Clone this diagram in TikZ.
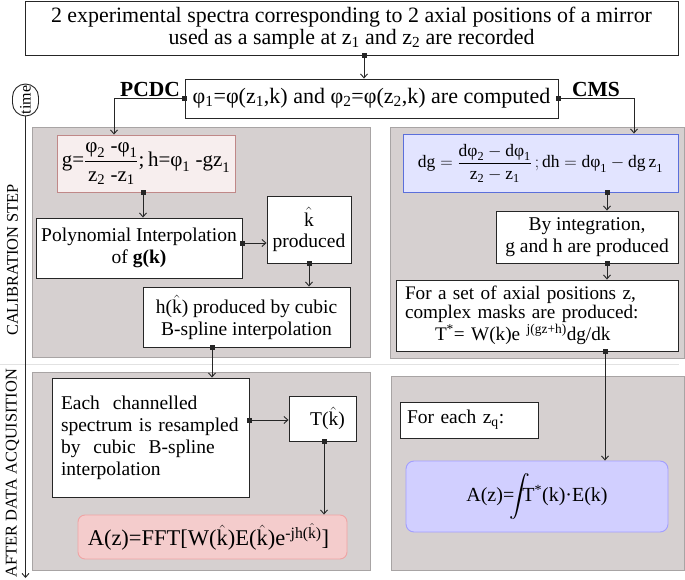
\documentclass[tikz,border=0pt]{standalone}
\usepackage{amsmath}
\usepackage{fontspec}
\setmainfont{Liberation Serif}
\usetikzlibrary{arrows.meta,shapes.misc}
\definecolor{panelfill}{HTML}{D6D0D0}
\definecolor{panelline}{HTML}{A8A4A4}
\definecolor{pinkfill}{HTML}{F7EEEE}
\definecolor{pinkline}{HTML}{C08888}
\definecolor{bluefill}{HTML}{E2E4FF}
\definecolor{blueline}{HTML}{5B6FDB}
\definecolor{fftfill}{HTML}{F4CCCC}
\definecolor{fftline}{HTML}{F0A4A4}
\definecolor{afill}{HTML}{D1CFFF}
\definecolor{aline}{HTML}{A29EFF}
\definecolor{sepline}{HTML}{E2E2E2}
\newcommand{\kh}{\ensuremath{\hat{\text{k}}}}
\newcommand{\lsub}[1]{\textsubscript{#1}}
\newcommand{\ms}[1]{_{\text{#1}}}
\begin{document}
\begin{tikzpicture}[x=1pt,y=-1pt,
  every node/.style={font=\fontsize{19.5}{21.5}\selectfont, inner sep=2pt},
  box/.style={draw=black!85, line width=0.9pt, fill=white, align=center},
  panel/.style={draw=panelline, line width=0.9pt, fill=panelfill},
  conn/.style={draw=black!85, line width=0.9pt, {Square[length=5pt,width=5pt]}-{Straight Barb[length=4pt,width=7pt]}, shorten <=-2.5pt},
  lbl/.style={rotate=90, font=\fontsize{16.4}{16.4}\selectfont},
]
\useasboundingbox (0,0) rectangle (685,580);

% panels
\draw[panel] (32,127) rectangle (370,357);
\draw[panel] (390,127) rectangle (684,358);
\draw[panel] (32,372) rectangle (370,570);
\draw[panel] (391,376) rectangle (684,570);
\draw[sepline, line width=1.5pt] (0,364.5) -- (679,364.5);

% time axis
\node[draw=black!85, line width=0.9pt, rounded rectangle, rotate=90, minimum width=34pt, minimum height=26pt, inner sep=1pt, font=\fontsize{16}{16}\selectfont] (time) at (25.5,100) {time};
\coordinate (tend) at (25.5,578);
\draw[line width=0.9pt, black!85, -{Straight Barb[length=4pt,width=7pt]}] (time.west) -- (tend);
\node[lbl] (cal) at (12.5,260) {CALIBRATION STEP};
\node[lbl] (after) at (12.5,473) {AFTER DATA ACQUISITION};

% top
\node[box, minimum width=653pt, minimum height=53.5pt, font=\fontsize{21.9}{22.5}\selectfont] (top) at (351.5,28.25)
  {2 experimental spectra corresponding to 2 axial positions of a mirror\\ used as a sample at z\lsub{1} and z\lsub{2} are recorded};
\node[box, minimum width=373pt, minimum height=39pt, font=\fontsize{22}{22}\selectfont] (phi) at (371.5,98.5)
  {φ\lsub{1}=φ(z\lsub{1},k) and φ\lsub{2}=φ(z\lsub{2},k) are computed};
\node[font=\fontsize{21.5}{24}\selectfont\bfseries] (pcdc) at (150,89.5) {PCDC};
\node[font=\fontsize{21.5}{24}\selectfont\bfseries] (cms) at (596,89.5) {CMS};

% left calibration
\node[box, fill=pinkfill, draw=pinkline, minimum width=178pt, minimum height=57pt, font=\fontsize{21}{22}\selectfont] (pink) at (146,163.5)
  {$\text{g=}\dfrac{\text{φ}\ms{2}\text{ -φ}\ms{1}}{\text{z}\ms{2}\text{ -z}\ms{1}}\text{;\,h=φ}\ms{1}\text{ -gz}\ms{1}$};
\node[box, minimum width=206pt, minimum height=60pt] (poly) at (139,248)
  {Polynomial Interpolation\\ of \textbf{g(k)}};
\node[box, minimum width=84pt, minimum height=67pt] (khat) at (309,229.5)
  {\kh\\ produced};
\node[box, minimum width=207pt, minimum height=60pt] (hbox) at (246.5,317)
  {h(\kh) produced by cubic\\ B-spline interpolation};

% right calibration
\node[box, fill=bluefill, draw=blueline, minimum width=275pt, minimum height=58pt, font=\fontsize{17.5}{20}\selectfont] (blue) at (540.5,163)
  {$\text{dg} = \dfrac{\text{dφ}\ms{2} - \text{dφ}\ms{1}}{\text{z}\ms{2} - \text{z}\ms{1}}\,;\text{dh} = \text{dφ}\ms{1} - \text{dg\,z}\ms{1}$};
\node[box, minimum width=182pt, minimum height=52pt] (integ) at (587,237)
  {By integration,\\ g and h are produced};
\node[box, minimum height=71pt, align=left, inner xsep=9pt, text width=264pt, font=\fontsize{19.2}{19}\selectfont] (forset) at (537,315.5)
  {For a set of axial positions z,\\ complex masks are produced:\\ \rule{30pt}{0pt}T$^{\text{*}}$= W(k)e $^{\text{j(gz+h)}}$dg/dk};

% left acquisition
\node[box, minimum height=119pt, align=left, inner xsep=9pt, text width=179pt, font=\fontsize{19.5}{22}\selectfont] (each) at (150.5,437.5)
  {\hyphenpenalty10000 \exhyphenpenalty10000 Each\ \ channelled\\ spectrum is resampled\\ by\ \ cubic\ \ B-spline\\ interpolation};
\node[box, minimum width=67pt, minimum height=45pt] (tbox) at (322.5,418.5)
  {\hspace*{10pt}T(\kh)};
\node[box, rounded corners=7pt, fill=fftfill, draw=fftline, minimum width=269pt, minimum height=44pt, font=\fontsize{22.5}{23}\selectfont] (fft) at (212.5,537)
  {A(z)=FFT[W(\kh)E(\kh)e$^{\text{-jh(}\hat{\text{k}}\text{)}}$]\hspace*{8pt}};

% right acquisition
\node[box, minimum height=36pt, align=left, inner xsep=7pt, text width=124pt] (foreach) at (469,420)
  {For each z\lsub{q}:};
\node[box, rounded corners=8pt, fill=afill, draw=aline, minimum width=262pt, minimum height=71pt, font=\fontsize{20}{22}\selectfont] (ablue) at (537,496.5)
  {A(z)=$\mkern-4mu\displaystyle\int\mkern-7mu$T$^{\text{*}}$(k)·E(k)};

% connectors
\draw[conn] ([xshift=12.5pt]top.south) -- ([xshift=12.5pt]top.south |- phi.north);
\draw[conn] (phi.west) -| ([xshift=-32pt]pink.north);
\draw[conn] (phi.east) -| ([xshift=93.5pt]blue.north);
\draw[conn] ([xshift=-3pt]pink.south) -- ([xshift=-3pt]pink.south |- poly.north);
\draw[conn] ([yshift=5pt]poly.east) -- ([yshift=5pt]poly.east -| khat.west);
\draw[conn] (khat.south) -- (khat.south |- hbox.north);
\draw[conn] ([xshift=-34.5pt]hbox.south) -- ([xshift=-34.5pt]hbox.south |- each.north);
\draw[conn] ([yshift=17.5pt]each.east) -- ([yshift=17.5pt]each.east -| tbox.west);
\draw[conn] ([xshift=1.5pt]tbox.south) -- ([xshift=1.5pt]tbox.south |- fft.north);
\draw[conn] ([xshift=66.5pt]blue.south) -- ([xshift=66.5pt]blue.south |- integ.north);
\draw[conn] ([xshift=20pt]integ.south) -- ([xshift=20pt]integ.south |- forset.north);
\draw[conn] ([xshift=68pt]forset.south) -- ([xshift=68pt]forset.south |- ablue.north);
\end{tikzpicture}
\end{document}
